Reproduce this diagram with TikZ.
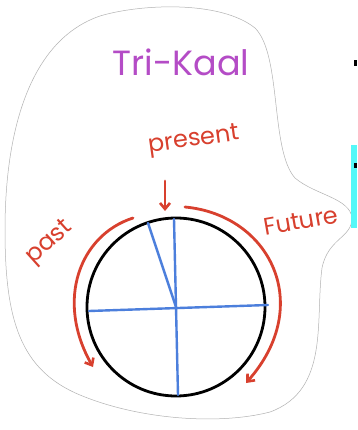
\documentclass[tikz,border=0pt]{standalone}
\usepackage{fontspec}
\setmainfont{Poppins}
\usetikzlibrary{arrows.meta}
\definecolor{inkred}{HTML}{D8402E}
\definecolor{inkpurple}{HTML}{B44CC6}
\definecolor{inkblue}{HTML}{4C7FDC}
\definecolor{sidecyan}{HTML}{55F8F8}
\tikzset{
  redpen/.style={draw=inkred, line width=2.8pt, line cap=round},
  bluepen/.style={draw=inkblue, line width=2.4pt, line cap=round},
  redtext/.style={text=inkred, font=\fontsize{24}{24}\selectfont},
  tip/.style={-{Straight Barb[length=6pt,width=10pt,line width=2.6pt]}},
}
\begin{document}
\begin{tikzpicture}[x=1pt,y=-1pt]
\useasboundingbox (0,0) rectangle (357,430);
\fill[white] (0,0) rectangle (357,430);
% outline blob
\draw[gray!60, line width=0.5pt]
  (100,16) .. controls (140,4) and (220,0) .. (255,28)
  .. controls (282,55) and (270,150) .. (295,178)
  .. controls (315,195) and (350,198) .. (352,218)
  .. controls (352,238) and (328,238) .. (322,268)
  .. controls (315,320) and (330,390) .. (270,412)
  .. controls (220,425) and (140,420) .. (80,395)
  .. controls (20,370) and (5,320) .. (5,230)
  .. controls (5,130) and (30,40) .. (100,16);
% side artefacts
\fill[sidecyan] (351,145) rectangle (357,228);
\fill[black] (354,60) rectangle (357,66);
\fill[black] (354,163) rectangle (357,168);
% title
\node[text=inkpurple, font=\fontsize{35}{35}\selectfont] (title) at (181,62) {Tri-Kaal};
% circle
\coordinate (c) at (176,307);
\draw[black, line width=2.8pt] (c) circle[radius=89];
\coordinate (top) at (174,219);
\coordinate (tick) at (148,223);
\coordinate (left) at (89,311);
\coordinate (right) at (268,305);
\coordinate (bottom) at (178,395);
\draw[bluepen] (c) -- (top);
\draw[bluepen] (c) -- (tick);
\draw[bluepen] (left) -- (right);
\draw[bluepen] (c) -- (bottom);
% present
\node[redtext, rotate=8] (present) at (194,141) {present};
\coordinate (pa) at (165,181);
\coordinate (pb) at (165,211);
\draw[redpen, tip] (pa) -- (pb);
% past
\node[redtext, rotate=42] (past) at (50,243) {past};
\coordinate (s1) at (133,218);
\coordinate (s2) at (93,367);
\draw[redpen, tip] (s1) .. controls (80,235) and (55,300) .. (s2);
% future
\node[redtext, rotate=10] (future) at (301,221) {Future};
\coordinate (f1) at (185,207);
\coordinate (f2) at (246,383);
\draw[redpen, tip] (f1) .. controls (270,215) and (315,305) .. (f2);
\end{tikzpicture}
\end{document}
